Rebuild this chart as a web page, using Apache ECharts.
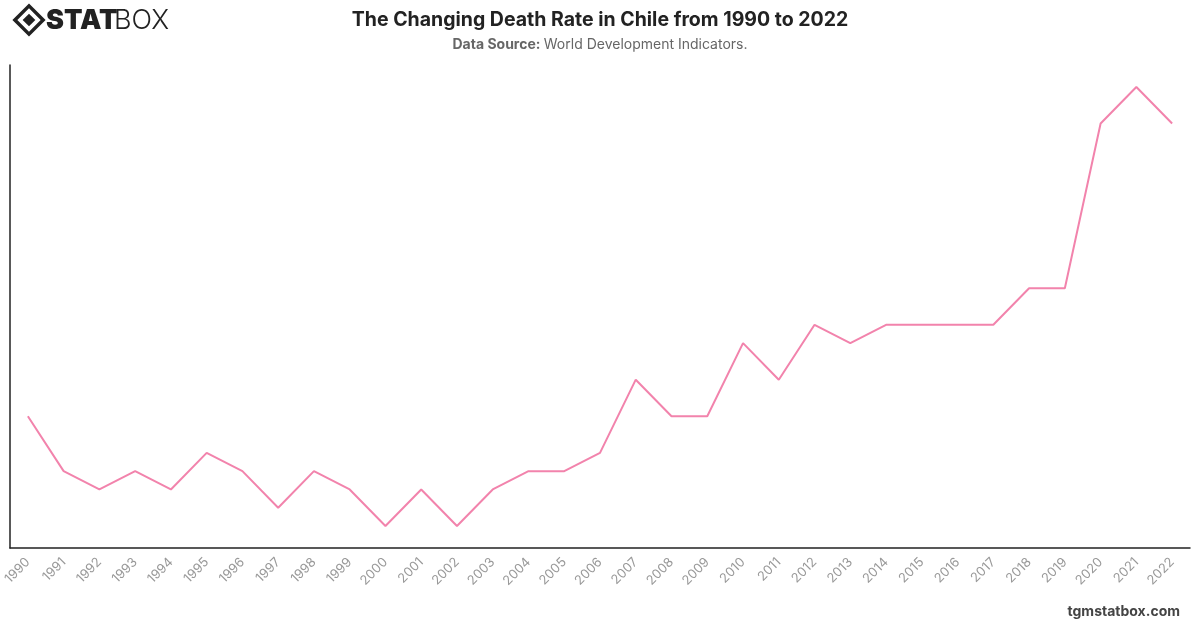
<!DOCTYPE html>
<html>
<head>
<meta charset="utf-8">
<script src="https://cdn.jsdelivr.net/npm/echarts@6/dist/echarts.min.js"></script>
<style>
  html, body { margin: 0; padding: 0; background: #fff; }
  #chart { width: 1200px; height: 628px; }
</style>
</head>
<body>
<div id="chart"></div>
<script>
// 年份与死亡率（每千人）
var years = ['1990','1991','1992','1993','1994','1995','1996','1997','1998','1999',
  '2000','2001','2002','2003','2004','2005','2006','2007','2008','2009',
  '2010','2011','2012','2013','2014','2015','2016','2017','2018','2019',
  '2020','2021','2022'];
var deathRate = [5.6, 5.3, 5.2, 5.3, 5.2, 5.4, 5.3, 5.1, 5.3, 5.2,
  5.0, 5.2, 5.0, 5.2, 5.3, 5.3, 5.4, 5.8, 5.6, 5.6,
  6.0, 5.8, 6.1, 6.0, 6.1, 6.1, 6.1, 6.1, 6.3, 6.3,
  7.2, 7.4, 7.2];

var chart = echarts.init(document.getElementById('chart'));

var option = {
  backgroundColor: '#fff',
  animation: false,
  title: {
    text: 'The Changing Death Rate in Chile from 1990 to 2022',
    left: 'center',
    top: 5,
    textStyle: { fontFamily: 'Inter', fontSize: 19.5, fontWeight: 'bold', color: '#222' },
    subtext: '{b|Data Source:} {n|World Development Indicators.}',
    itemGap: 8,
    subtextStyle: {
      rich: {
        b: { fontFamily: 'Inter', fontSize: 14, fontWeight: 'bold', color: '#666' },
        n: { fontFamily: 'Inter', fontSize: 14, color: '#666' }
      }
    }
  },
  grid: { left: 10, right: 10, top: 65, bottom: 80 },
  xAxis: {
    type: 'category',
    data: years,
    boundaryGap: true,
    axisLine: { lineStyle: { color: '#222', width: 1.5 } },
    axisTick: { show: false },
    axisLabel: {
      rotate: 45,
      interval: 0,
      margin: 12,
      color: '#999',
      fontFamily: 'Inter',
      fontSize: 13
    }
  },
  yAxis: {
    type: 'value',
    min: 4.88,
    max: 7.52,
    axisLine: { show: true, lineStyle: { color: '#222', width: 1.5 } },
    axisTick: { show: false },
    axisLabel: { show: false },
    splitLine: { show: false }
  },
  series: [{
    type: 'line',
    data: deathRate,
    symbol: 'none',
    lineStyle: { color: '#F283AC', width: 2 },
    itemStyle: { color: '#F283AC' }
  }],
  graphic: [
    // logo 图标
    {
      type: 'rect', x: 29, y: 20, rotation: Math.PI / 4,
      shape: { x: -10, y: -10, width: 20, height: 20 },
      style: { fill: 'none', stroke: '#222', lineWidth: 3.5 }
    },
    {
      type: 'rect', x: 29, y: 20, rotation: Math.PI / 4,
      shape: { x: -4.5, y: -4.5, width: 9, height: 9 },
      style: { fill: '#222' }
    },
    {
      type: 'text', left: 46, top: 7,
      style: { text: 'STAT', fontFamily: 'Inter', fontSize: 27, fontWeight: 900, fill: '#222' }
    },
    {
      type: 'text', left: 114, top: 7,
      style: { text: 'BOX', fontFamily: 'Inter', fontSize: 27, fontWeight: 300, fill: '#222' }
    },
    {
      type: 'text', right: 20, top: 605,
      style: { text: 'tgmstatbox.com', fontFamily: 'Inter', fontSize: 14, fontWeight: 'bold', fill: '#444' }
    }
  ]
};

chart.setOption(option);
window.addEventListener('resize', function () {
  chart.resize();
});
</script>
</body>
</html>
